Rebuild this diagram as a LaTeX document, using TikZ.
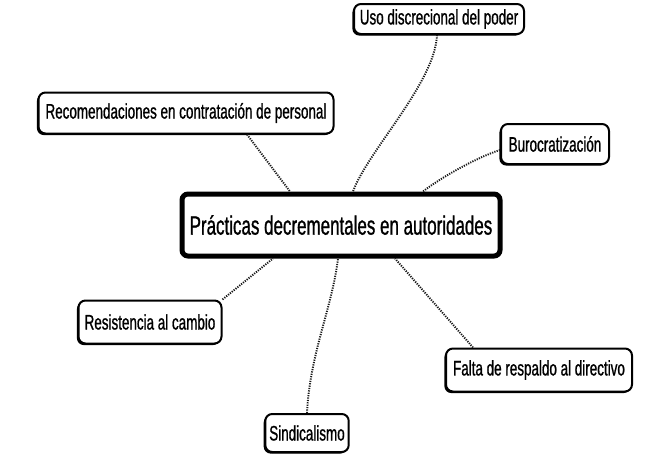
\documentclass[tikz,border=0pt]{standalone}
\usepackage{fontspec}
\newfontfamily\narrowsans[FakeStretch=0.64,FakeBold=0.9]{Liberation Sans}
\usetikzlibrary{shadows}

\begin{document}
\begin{tikzpicture}[x=1pt,y=-1pt,
  box/.style={draw,line width=2pt,rounded corners=7pt,fill=white,inner xsep=4pt,
    font=\narrowsans\fontsize{21}{24}\selectfont,
    drop shadow={shadow xshift=-1.6pt,shadow yshift=-1.6pt,fill=black,opacity=1}},
  link/.style={line width=1.9pt,dash pattern=on 1.2pt off 1.2pt,black!90}]
  \useasboundingbox (0,0) rectangle (655,463);
  \node[draw,line width=5pt,rounded corners=6pt,fill=white,minimum width=318pt,minimum height=62pt,font=\narrowsans\fontsize{26.5}{30}\selectfont] (c) at (341,225) {Prácticas decrementales en autoridades};
  \node[box,minimum width=170pt,minimum height=30pt] (uso) at (439,19) {Uso discrecional del poder};
  \node[box,minimum width=295pt,minimum height=41pt] (rec) at (186,113) {Recomendaciones en contratación de personal};
  \node[box,minimum width=108pt,minimum height=40pt] (bur) at (555,144) {Burocratización};
  \node[box,minimum width=143pt,minimum height=43pt] (res) at (150,322) {Resistencia al cambio};
  \node[box,minimum width=186pt,minimum height=43pt] (fal) at (539,370) {Falta de respaldo al directivo};
  \node[box,minimum width=83pt,minimum height=38pt] (sin) at (307,433) {Sindicalismo};
  % dotted links to the centre
  \draw[link] ([xshift=-2pt]uso.south) .. controls +(-2,48) and +(15,-41) .. ([xshift=12pt]c.north);
  \draw[link] ([xshift=61pt]rec.south) -- ([xshift=-51pt]c.north);
  \draw[link] ([yshift=-6pt]bur.west) .. controls +(-25,8) and +(15,-12) .. ([xshift=82pt]c.north);
  \draw[link] (res.north east) -- ([xshift=-68pt]c.south);
  \draw[link] (sin.north) .. controls +(3,-60) and +(-6,50) .. ([xshift=-3pt]c.south);
  \draw[link] ([xshift=28pt]fal.north west) -- ([xshift=54pt]c.south);
\end{tikzpicture}
\end{document}
